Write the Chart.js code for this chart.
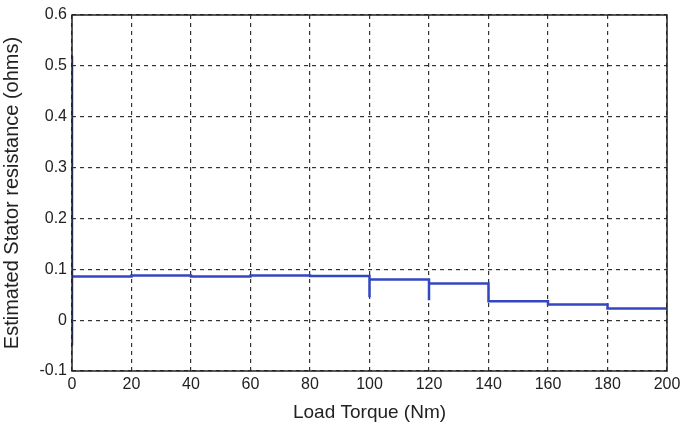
<!DOCTYPE html>
<html>
<head>
<meta charset="utf-8">
<script src="https://cdn.jsdelivr.net/npm/chart.js@4/dist/chart.umd.min.js"></script>
<style>
  html, body { margin: 0; padding: 0; background: #fff; }
  #wrap { width: 681px; height: 428px; }
</style>
</head>
<body>
<div id="wrap"><canvas id="chart" width="681" height="428"></canvas></div>
<script>
// load torque steps (Nm) and the estimated resistance held on each step
let stepStarts = [0, 20, 40, 60, 80, 100, 120, 140, 160, 180];
let stepEnds = [20, 40, 60, 80, 100, 120, 140, 160, 180, 200];
let stepLevels = [0.086, 0.088, 0.086, 0.088, 0.087, 0.080, 0.072, 0.037, 0.031, 0.023];
// short dip of the estimate at the start of a step (null = none)
let stepDips = [null, null, null, null, null, 0.045, 0.039, null, null, null];
// start-up transient at zero torque
let startTransient = [0.52, -0.05];
let xTicks = [0, 20, 40, 60, 80, 100, 120, 140, 160, 180, 200];
let yTicks = [-0.1, 0, 0.1, 0.2, 0.3, 0.4, 0.5, 0.6];

/**
 * Builds the staircase points of the estimate.
 */
function buildSteps() {
  let pts = startTransient.map(v => ({ x: 0, y: v }));
  stepStarts.forEach((s, i) => {
    if (stepDips[i] !== null) pts.push({ x: s, y: stepDips[i] });
    pts.push({ x: s, y: stepLevels[i] });
    pts.push({ x: stepEnds[i], y: stepLevels[i] });
  });
  return pts;
}

let frame = {
  id: 'frame',
  afterDraw(chart) {
    let a = chart.chartArea, ctx = chart.ctx;
    ctx.save();
    ctx.strokeStyle = '#222';
    ctx.lineWidth = 1.5;
    ctx.strokeRect(a.left, a.top, a.right - a.left, a.bottom - a.top);
    ctx.restore();
  }
};

let font = "'Liberation Sans', Arial, sans-serif";

new Chart(document.getElementById('chart').getContext('2d'), {
  type: 'line',
  data: {
    datasets: [{
      data: buildSteps(),
      borderColor: '#3347c2',
      borderWidth: 2.5,
      pointRadius: 0,
      tension: 0,
      fill: false
    }]
  },
  options: {
    responsive: false,
    animation: false,
    layout: { padding: { top: 15, right: 0, left: 0, bottom: 0 } },
    plugins: { legend: { display: false }, tooltip: { enabled: false } },
    scales: {
      x: {
        type: 'linear', min: 0, max: 200,
        afterBuildTicks: s => { s.ticks = xTicks.map(v => ({ value: v })); },
        afterFit: s => { s.height = 57; s.paddingRight = 14; },
        grid: { color: '#333', lineWidth: 1.2, drawTicks: false },
        border: { display: false, dash: [4, 4] },
        ticks: { color: '#222', padding: 4, maxRotation: 0, font: { family: font, size: 16 } },
        title: { display: true, text: 'Load Torque (Nm)', color: '#222', padding: { top: 0 }, font: { family: font, size: 19 } }
      },
      y: {
        min: -0.1, max: 0.6,
        afterBuildTicks: s => { s.ticks = yTicks.map(v => ({ value: v })); },
        afterFit: s => { s.width = 72; },
        grid: { color: '#333', lineWidth: 1.2, drawTicks: false },
        border: { display: false, dash: [4, 4] },
        ticks: { color: '#222', padding: 5, callback: v => String(+v.toFixed(1)), font: { family: font, size: 16 } },
        title: { display: true, text: 'Estimated Stator resistance (ohms)', color: '#222', padding: { top: 0, bottom: 2 }, font: { family: font, size: 20 } }
      }
    }
  },
  plugins: [frame]
});
</script>
</body>
</html>
